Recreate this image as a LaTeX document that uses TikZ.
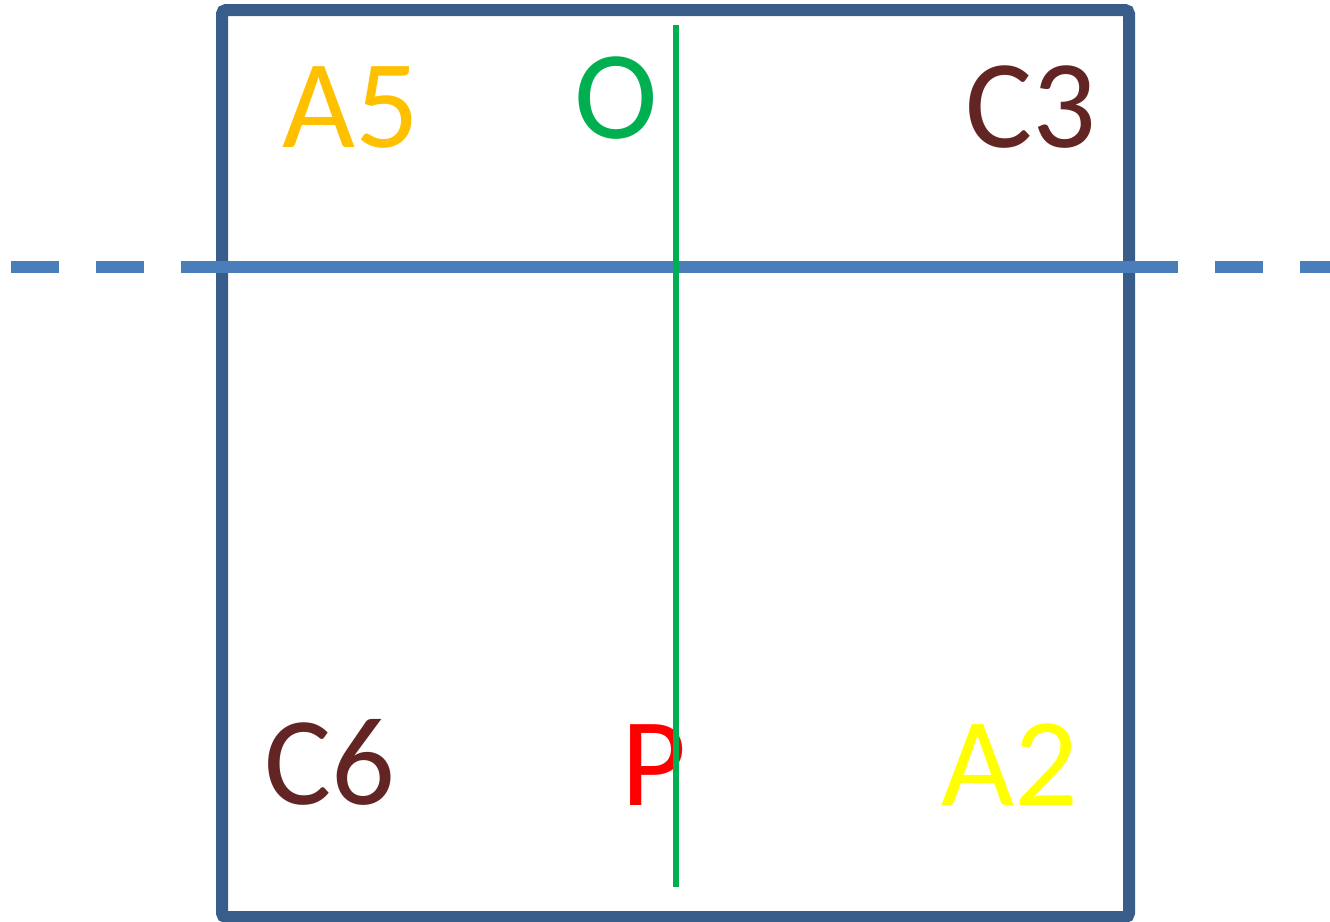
\documentclass[tikz,border=0pt]{standalone}
\usepackage{fontspec}
\setmainfont{Carlito}
\definecolor{framedark}{RGB}{56, 93, 138}
\definecolor{axisblue}{RGB}{74, 126, 187}
\definecolor{cutgreen}{RGB}{0, 176, 80}
\definecolor{tagorange}{RGB}{255, 192, 0}
\definecolor{tagbrown}{RGB}{99, 37, 35}
\definecolor{tagred}{RGB}{255, 0, 0}
\definecolor{tagyellow}{RGB}{255, 255, 0}
\usepackage{tikz}

\begin{document}
\begin{tikzpicture}[x=1pt, y=-1pt,
    boxline/.style={draw=framedark, line width=12pt, rounded corners=4pt},
    hline/.style={draw=axisblue, line width=12.5pt},
    hdash/.style={hline, dash pattern=on 48.5pt off 36.5pt},
    vline/.style={draw=cutgreen, line width=6pt},
    tag/.style={inner sep=0pt, anchor=base, font=\fontsize{126}{126}\selectfont}]

\useasboundingbox (0,0) rectangle (1330,921);

% frame and axes
\draw[boxline] (222,10) rectangle (1129,917);
\draw[hdash] (10.7,267) -- (144.2,267);
\draw[hline] (180.7,267) -- (1177.7,267);
\draw[hdash] (1214.7,267) -- (1330,267);

% labels
\node[tag, text=tagorange] (a5) at (351,147) {A5};
\node[tag, text=cutgreen] (o) at (616,138) {O};
\node[tag, text=tagbrown] (c3) at (1031,147) {C3};
\node[tag, text=tagbrown] (c6) at (330,804) {C6};
\node[tag, text=tagred] (p) at (654,805) {P};
\node[tag, text=tagyellow] (a2) at (1010,805) {A2};

\draw[vline] (676,25) -- (676,887);
\end{tikzpicture}
\end{document}
